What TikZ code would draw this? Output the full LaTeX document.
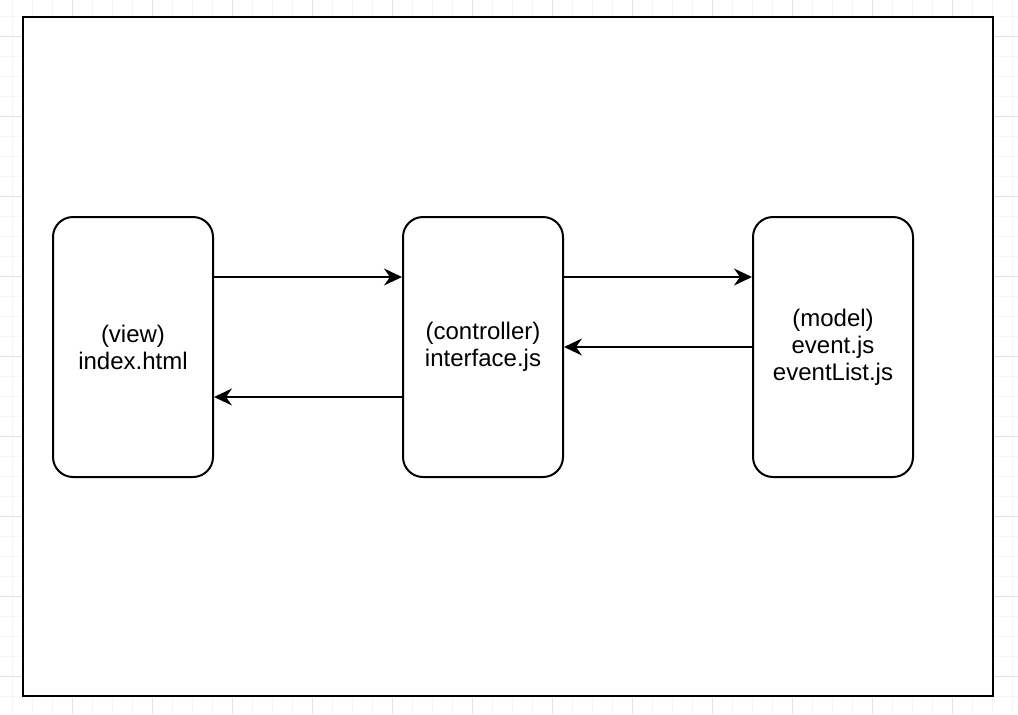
\documentclass[tikz,border=0pt]{standalone}
\usepackage{fontspec}
\setmainfont{Liberation Sans}
\usetikzlibrary{arrows.meta,positioning}

\begin{document}
\begin{tikzpicture}[x=0.5pt,y=-0.5pt,
  gridminor/.style={draw=black!4, line width=0.5pt},
  gridmajor/.style={draw=black!10, line width=0.5pt},
  box/.style={draw, line width=1pt, rounded corners=10pt, minimum width=80pt,
    minimum height=130pt, inner sep=0pt, align=center,
    font=\fontsize{12}{13.5}\selectfont},
  link/.style={line width=1pt, -{Stealth[length=9pt,width=8.5pt,inset=3pt]}}]
\useasboundingbox (0,0) rectangle (1018,714);
% background grid
\foreach \x in {12,32,...,1012} \draw[gridminor] (\x,0) -- (\x,714);
\foreach \y in {16,36,...,696} \draw[gridminor] (0,\y) -- (1018,\y);
\foreach \x in {72,152,...,952} \draw[gridmajor] (\x,0) -- (\x,714);
\foreach \y in {36,116,...,676} \draw[gridmajor] (0,\y) -- (1018,\y);
\draw[line width=1pt, fill=white] (23,17) rectangle (993,696);
% the three parts
\node[box] (view) at (133,347) {(view)\\index.html};
\node[box] (ctrl) at (483,347) {(controller)\\interface.js};
\node[box] (model) at (833,347) {(model)\\event.js\\eventList.js};
\draw[link] ([yshift=35pt]view.east) -- ([yshift=35pt]ctrl.west);
\draw[link] ([yshift=-25pt]ctrl.west) -- ([yshift=-25pt]view.east);
\draw[link] ([yshift=35pt]ctrl.east) -- ([yshift=35pt]model.west);
\draw[link] (model.west) -- (ctrl.east);
\end{tikzpicture}
\end{document}
